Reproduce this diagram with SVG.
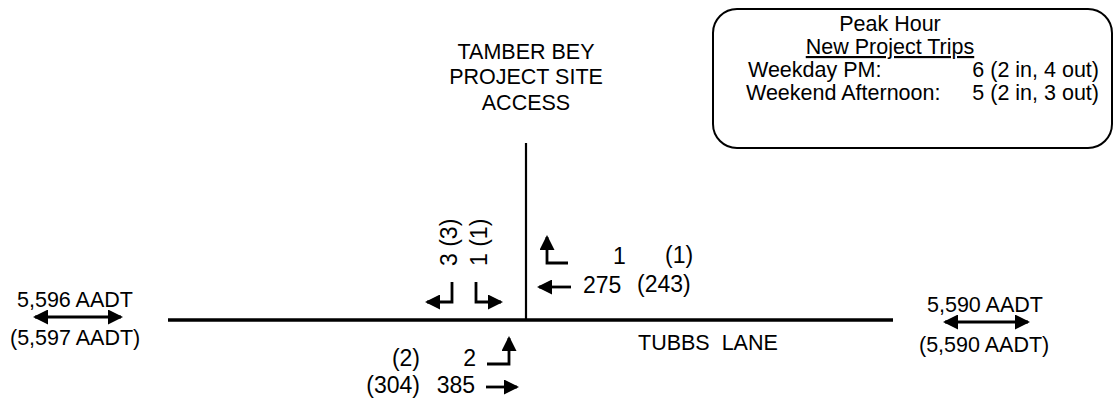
<svg xmlns="http://www.w3.org/2000/svg" width="1120" height="402" viewBox="0 0 1120 402">
<style>
text{font-family:"Liberation Sans",Arial,sans-serif;fill:#000}
.t{font-size:21.5px}
.n{font-size:23px}
.e{text-anchor:end}
.m{text-anchor:middle}
.road{stroke:#000;fill:none}
.arr{stroke:#000;stroke-width:2.8;fill:none;marker-end:url(#ah)}
.dbl{stroke:#000;stroke-width:2.8;fill:none;marker-end:url(#ah);marker-start:url(#ah)}
</style>
<defs>
<marker id="ah" viewBox="0 0 15 15" refX="13" refY="7.5" markerWidth="15" markerHeight="15" markerUnits="userSpaceOnUse" orient="auto-start-reverse">
<path d="M0,0 L15,7.5 L0,15 z" fill="#000"/>
</marker>
</defs>
<rect width="1120" height="402" fill="#fff"/>
<g id="roads">
<line class="road" x1="168" y1="320" x2="893" y2="320" stroke-width="3.5"/>
<line class="road" x1="526" y1="143" x2="526" y2="320" stroke-width="2.2"/>
</g>
<g id="site-label">
<text class="t m" x="526" y="59">TAMBER BEY</text>
<text class="t m" x="526" y="84">PROJECT SITE</text>
<text class="t m" x="526" y="110">ACCESS</text>
</g>
<g id="legend">
<rect x="713" y="9" width="399" height="139" rx="24" ry="24" fill="none" stroke="#000" stroke-width="2"/>
<text class="t m" x="890" y="31">Peak Hour</text>
<text class="t m" x="890" y="54" text-decoration="underline">New Project Trips</text>
<text class="t" x="748" y="77">Weekday PM:</text>
<text class="t e" x="1099" y="77">6 (2 in, 4 out)</text>
<text class="t" x="746" y="100">Weekend Afternoon:</text>
<text class="t e" x="1099" y="100">5 (2 in, 3 out)</text>
</g>
<g id="west-aadt">
<text class="t" x="17" y="307">5,596 AADT</text>
<text class="t" x="10" y="345">(5,597 AADT)</text>
</g>
<g id="east-aadt">
<text class="t" x="927" y="312">5,590 AADT</text>
<text class="t" x="919" y="352">(5,590 AADT)</text>
</g>
<g id="street-label">
<text class="t" x="638" y="350" xml:space="preserve">TUBBS  LANE</text>
</g>
<g id="southbound-volumes">
<text class="n" transform="translate(457,266) rotate(-90)">3 (3)</text>
<text class="n" transform="translate(487,266) rotate(-90)">1 (1)</text>
</g>
<g id="westbound-volumes">
<text class="n" x="613" y="264">1</text>
<text class="n" x="665" y="263">(1)</text>
<text class="n" x="583" y="293">275</text>
<text class="n" x="637" y="292">(243)</text>
</g>
<g id="eastbound-volumes">
<text class="n e" x="476" y="366">2</text>
<text class="n e" x="420" y="366">(2)</text>
<text class="n e" x="475" y="393">385</text>
<text class="n e" x="420" y="393">(304)</text>
</g>
<g id="connectors">
<path class="arr" d="M452,282 L452,302 L427,302"/>
<path class="arr" d="M476,282 L476,302 L501,302"/>
<path class="arr" d="M568,263 L547,263 L547,237"/>
<path class="arr" d="M571,287 L539,287"/>
<path class="arr" d="M487,364 L509,364 L509,338"/>
<path class="arr" d="M486,387 L517,387"/>
<path class="dbl" d="M35,317 L121,317"/>
<path class="dbl" d="M945,322 L1028,322"/>
</g>
</svg>
